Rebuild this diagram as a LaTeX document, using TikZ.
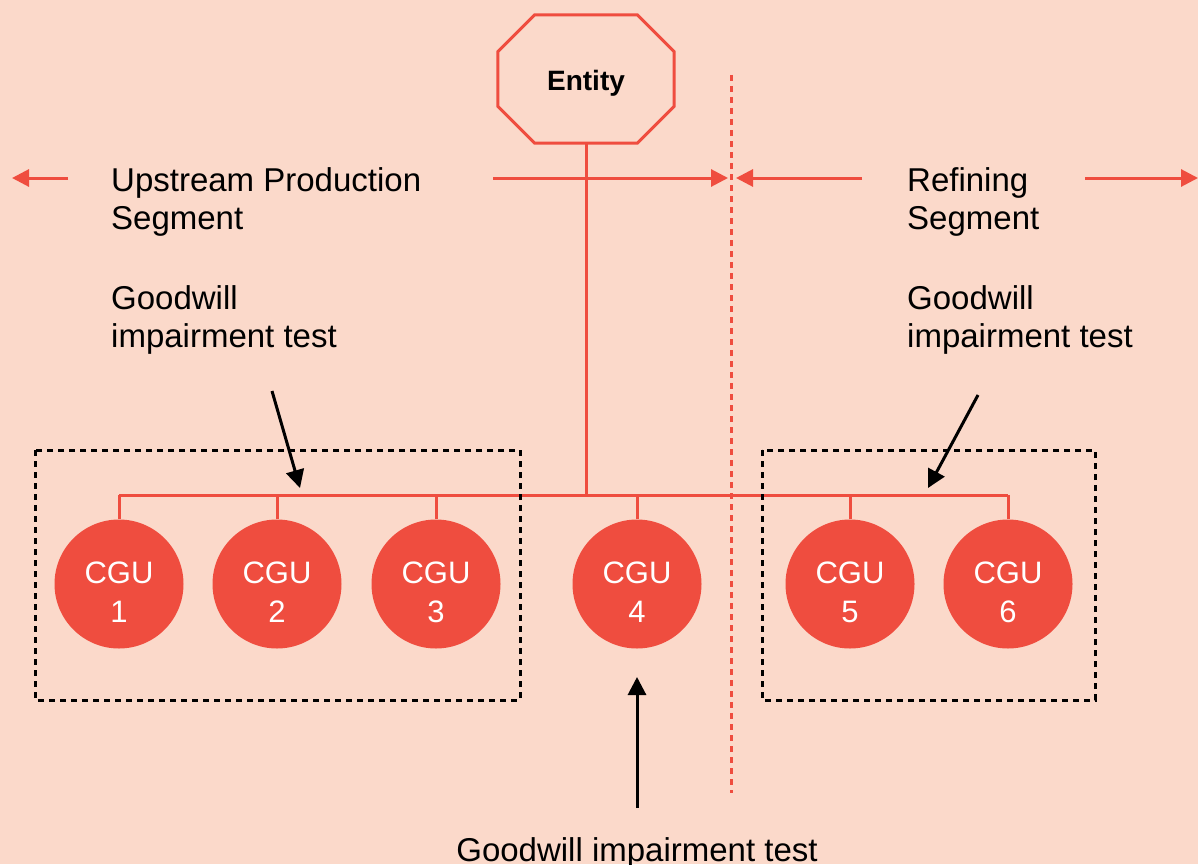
\documentclass[tikz,border=0pt]{standalone}
\usepackage{fontspec}
\setmainfont{Liberation Sans}
\usetikzlibrary{arrows.meta,calc}
\definecolor{bgc}{HTML}{FBD9CA}
\definecolor{redc}{HTML}{EF4D3F}
\begin{document}
\begin{tikzpicture}[x=1pt,y=-1pt,
  redline/.style={draw=redc,line width=3pt},
  redarrow/.style={redc,line width=3pt,-{Triangle[length=17pt,width=17pt]}},
  blackarrow/.style={black,line width=3pt,-{Triangle[length=18pt,width=18pt]}},
  cgu/.style={circle,fill=redc,minimum size=129pt,inner sep=0pt},
  cgutext/.style={text=white,align=center,inner sep=0pt,font=\fontsize{31}{39}\selectfont},
  lbl/.style={anchor=base west,inner sep=0pt,font=\fontsize{33}{38}\selectfont},
  dbox/.style={draw=black,line width=3pt,dash pattern=on 6pt off 5pt}
]
\fill[bgc] (0,0) rectangle (1198,864);
\useasboundingbox (0,0) rectangle (1198,864);

% entity octagon
\node[minimum width=176pt,minimum height=128pt,inner sep=0pt] (entity) at (586,79) {};
\node[inner sep=0pt,font=\bfseries\fontsize{28}{32}\selectfont] (entitytxt) at (586,83) {Entity};
\draw[redline,line join=miter]
  ($(entity.north west)+(37,0)$) -- ($(entity.north east)+(-37,0)$) --
  ($(entity.north east)+(0,37)$) -- ($(entity.south east)+(0,-37)$) --
  ($(entity.south east)+(-37,0)$) -- ($(entity.south west)+(37,0)$) --
  ($(entity.south west)+(0,-37)$) -- ($(entity.north west)+(0,37)$) -- cycle;

% CGUs
\foreach \n/\x in {1/119,2/277,3/436,4/637,5/850,6/1008}{
  \node[cgu] (c\n) at (\x,584) {};
  \node[cgutext] (t\n) at ($(c\n)+(0,8)$) {CGU\\\n};
}

\coordinate (busL) at (119,495);
\coordinate (busR) at (1008,495);
\draw[redline] (busL) -- (busR);
\draw[redline] (entity.south) -- (entity.south |- busL);
\foreach \c in {c1,c2,c3,c4,c5,c6}{
  \draw[redline] (\c.north) -- (\c.north |- busL);
}

% dashed boxes
\draw[dbox] (35,450) rectangle (520,700);
\draw[dbox] (762,450) rectangle (1095,700);

% dotted divider
\coordinate (divT) at (731,75);
\coordinate (divB) at (731,793);
\draw[redc,line width=3pt,dash pattern=on 6pt off 5pt] (divT) -- (divB);

% segment arrows
\coordinate (a1s) at (68,178);  \coordinate (a1e) at (12,178);
\coordinate (a2s) at (493,178); \coordinate (a2e) at (728,178);
\coordinate (a3s) at (862,178); \coordinate (a3e) at (736,178);
\coordinate (a4s) at (1085,178); \coordinate (a4e) at (1198,178);
\draw[redarrow] (a1s) -- (a1e);
\draw[redarrow] (a2s) -- (a2e);
\draw[redarrow] (a3s) -- (a3e);
\draw[redarrow] (a4s) -- (a4e);

% labels
\node[lbl] (u1) at (111,191) {Upstream Production};
\node[lbl] (u2) at (111,229) {Segment};
\node[lbl] (g1) at (111,309) {Goodwill};
\node[lbl] (g2) at (111,347) {impairment test};
\node[lbl] (r1) at (907,191) {Refining};
\node[lbl] (r2) at (907,229) {Segment};
\node[lbl] (h1) at (907,309) {Goodwill};
\node[lbl] (h2) at (907,347) {impairment test};
\node[lbl,anchor=base] (bt) at (637,861) {Goodwill impairment test};

% black arrows
\coordinate (b1s) at (272,391); \coordinate (b1e) at (300,488);
\coordinate (b2s) at (978,395); \coordinate (b2e) at (928,488);
\coordinate (b3s) at (637,808); \coordinate (b3e) at (637,677);
\draw[blackarrow] (b1s) -- (b1e);
\draw[blackarrow] (b2s) -- (b2e);
\draw[blackarrow] (b3s) -- (b3e);
\end{tikzpicture}
\end{document}
